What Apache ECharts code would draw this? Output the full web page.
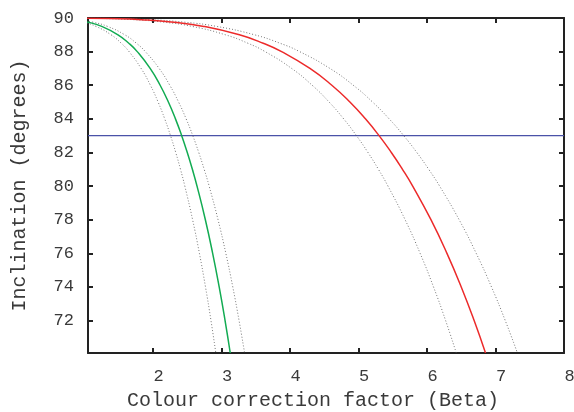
<!DOCTYPE html>
<html>
<head>
<meta charset="utf-8">
<script src="https://cdn.jsdelivr.net/npm/echarts@6/dist/echarts.min.js"></script>
<style>
html,body{margin:0;padding:0;background:#fff;}
#chart{width:574px;height:412px;}
</style>
</head>
<body>
<div id="chart"></div>
<script>
// Inclination samples (degrees) shared by all curves
var inclination = [89.99, 89.97, 89.9, 89.75, 89.5, 89, 88.5, 88, 87, 86, 85, 84, 83, 82, 81, 80, 78, 76, 74, 72, 70.07];

// Colour correction factor (Beta) read for each curve at those inclinations
var greenLow  = [0.3835, 0.5048, 0.7801, 0.9809, 1.1665, 1.3872, 1.5352, 1.6496, 1.8255, 1.9614, 2.0737, 2.1701, 2.255, 2.3311, 2.4003, 2.4637, 2.5772, 2.6767, 2.7654, 2.8456, 2.9162];
var greenMid  = [0.4704, 0.6191, 0.8365, 1.0518, 1.2508, 1.4875, 1.6461, 1.7688, 1.9574, 2.1032, 2.2236, 2.3270, 2.418, 2.4996, 2.5738, 2.6418, 2.7635, 2.8701, 2.9653, 3.0513, 3.1270];
var greenHigh = [0.5019, 0.6605, 0.8925, 1.1223, 1.3346, 1.5871, 1.7564, 1.8873, 2.0886, 2.2441, 2.3726, 2.4829, 2.58, 2.6671, 2.7462, 2.8188, 2.9486, 3.0624, 3.1640, 3.2557, 3.3365];
var redLow    = [0.9668, 1.2724, 1.7193, 2.1619, 2.5710, 3.0574, 3.3835, 3.6357, 4.0233, 4.3229, 4.5704, 4.7829, 4.97, 5.1377, 5.2901, 5.4300, 5.6801, 5.8993, 6.0949, 6.2716, 6.4273];
var redMid    = [1.0310, 1.3569, 1.8335, 2.3055, 2.7417, 3.2604, 3.6081, 3.8771, 4.2904, 4.6100, 4.8739, 5.1005, 5.30, 5.4789, 5.6414, 5.7906, 6.0572, 6.2910, 6.4996, 6.6880, 6.8541];
var redHigh   = [1.1011, 1.4491, 1.9580, 2.4621, 2.9279, 3.4818, 3.8532, 4.1404, 4.5819, 4.9231, 5.2049, 5.4469, 5.66, 5.8510, 6.0246, 6.1839, 6.4686, 6.7183, 6.9411, 7.1423, 7.3197];

// Reference inclination (horizontal line)
var refInclination = 83;

// Axes
var xRange = [1.05, 8];
var yRange = [70.07, 90];
var xTicks = [2, 3, 4, 5, 6, 7, 8];
var yTicks = [72, 74, 76, 78, 80, 82, 84, 86, 88, 90];

function pairs(xs) {
  return xs.map(function (x, i) { return [x, inclination[i]]; });
}

var FONT = 'Liberation Mono';
var AX = '#222';
var TXT = '#3a3a3a';

var chart = echarts.init(document.getElementById('chart'), null, {renderer: 'canvas'});

function dotted(xs) {
  return {
    type: 'line', data: pairs(xs), showSymbol: false, symbol: 'none', smooth: true, clip: true,
    lineStyle: {color: '#555', width: 0.8, type: [1, 2]}, silent: true, z: 2
  };
}

chart.setOption({
  animation: false,
  backgroundColor: '#fff',
  grid: {left: 88, right: 10, top: 18, bottom: 59, containLabel: false, outerBoundsMode: 'none'},
  xAxis: [{
    type: 'value', min: xRange[0], max: xRange[1], position: 'bottom',
    name: 'Colour correction factor (Beta)', nameLocation: 'middle', nameGap: 38,
    nameTextStyle: {fontFamily: FONT, fontSize: 20, color: TXT, padding: [0, 26, 0, 0]},
    axisLine: {show: true, onZero: false, lineStyle: {color: AX, width: 2}},
    axisTick: {show: true, inside: true, length: 5, lineStyle: {color: AX, width: 2}, customValues: xTicks},
    axisLabel: {show: true, fontFamily: FONT, fontSize: 17, color: TXT, margin: 15, customValues: xTicks, padding: [0, 0, 0, 11]},
    splitLine: {show: false}
  }, {
    type: 'value', min: xRange[0], max: xRange[1], position: 'top',
    axisLine: {show: true, onZero: false, lineStyle: {color: AX, width: 2}},
    axisTick: {show: true, inside: true, length: 5, lineStyle: {color: AX, width: 2}, customValues: xTicks.slice(0, -1)},
    axisLabel: {show: false},
    splitLine: {show: false}
  }],
  yAxis: [{
    type: 'value', min: yRange[0], max: yRange[1], position: 'left',
    name: 'Inclination (degrees)', nameLocation: 'middle', nameGap: 58, nameRotate: 90,
    nameTextStyle: {fontFamily: FONT, fontSize: 20, color: TXT},
    axisLine: {show: true, onZero: false, lineStyle: {color: AX, width: 2}},
    axisTick: {show: true, inside: true, length: 5, lineStyle: {color: AX, width: 2}, customValues: yTicks},
    axisLabel: {show: true, fontFamily: FONT, fontSize: 17, color: TXT, margin: 14, customValues: yTicks},
    splitLine: {show: false}
  }, {
    type: 'value', min: yRange[0], max: yRange[1], position: 'right',
    axisLine: {show: true, onZero: false, lineStyle: {color: AX, width: 2}},
    axisTick: {show: true, inside: true, length: 5, lineStyle: {color: AX, width: 2}, customValues: yTicks.slice(0, -1)},
    axisLabel: {show: false},
    splitLine: {show: false}
  }],
  series: [
    {
      type: 'line', data: [[xRange[0], refInclination], [xRange[1], refInclination]],
      showSymbol: false, symbol: 'none', lineStyle: {color: '#4a52a8', width: 1.2}, silent: true, z: 1
    },
    dotted(greenLow), dotted(greenHigh), dotted(redLow), dotted(redHigh),
    {
      type: 'line', data: pairs(greenMid), showSymbol: false, symbol: 'none', smooth: true, clip: true,
      lineStyle: {color: '#12ab52', width: 1.5}, silent: true, z: 3
    },
    {
      type: 'line', data: pairs(redMid), showSymbol: false, symbol: 'none', smooth: true, clip: true,
      lineStyle: {color: '#ec2a2a', width: 1.5}, silent: true, z: 3
    }
  ]
});
</script>
</body>
</html>
